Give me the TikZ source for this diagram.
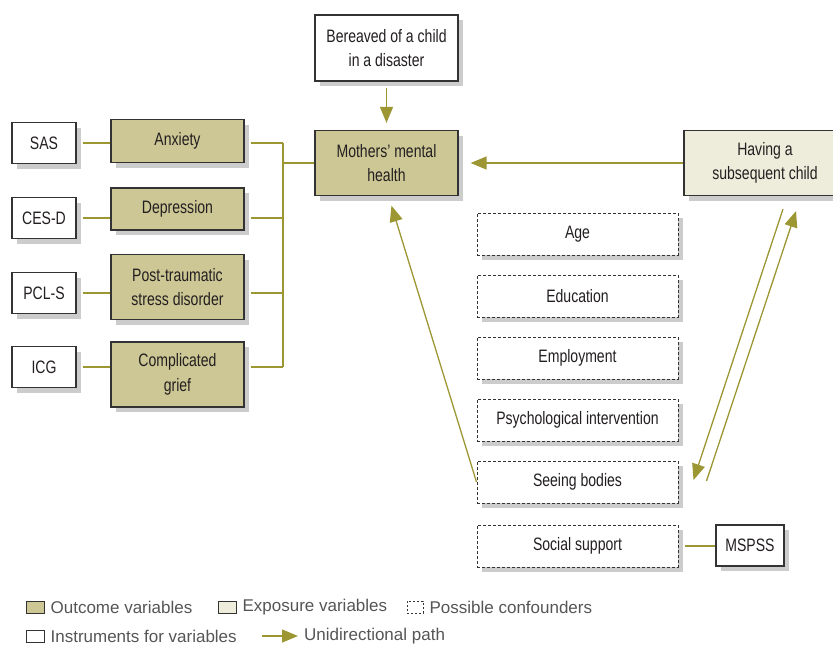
\documentclass[tikz,border=0pt]{standalone}
\usepackage{fontspec}
\setmainfont{Liberation Sans}[FakeStretch=0.78]
\newfontfamily\keyfont{Liberation Sans}
\usetikzlibrary{arrows.meta,positioning,shadows}
\definecolor{Edge}{HTML}{333333}
\definecolor{Ink}{HTML}{231F20}
\definecolor{Olive}{HTML}{9C9633}
\definecolor{Outcome}{HTML}{CCC794}
\definecolor{Exposure}{HTML}{EEEDDC}
\definecolor{Shade}{HTML}{CCCCCC}
\definecolor{Key}{HTML}{555555}

\begin{document}
\begin{tikzpicture}[x=1pt,y=-1pt,
  base/.style={draw=Edge,line width=1.2pt,inner sep=0pt,align=center,text=Ink,font=\fontsize{18}{24.5}\selectfont,drop shadow={shadow xshift=5pt,shadow yshift=-5pt,fill=Shade,opacity=1}},
  instr/.style={base,fill=white,minimum width=64pt,minimum height=41pt},
  outc/.style={base,fill=Outcome,minimum width=133pt},
  conf/.style={base,fill=white,dashed,dash pattern=on 3pt off 2pt,line width=1pt,minimum width=201pt,minimum height=42pt},
  keybox/.style={draw=Edge,line width=0.8pt,minimum width=18pt,minimum height=12pt,inner sep=0pt},
  keytext/.style={anchor=west,inner sep=0pt,text=Key,font=\keyfont\fontsize{17}{20}\selectfont},
  link/.style={draw=Olive,line width=1.3pt},
  arrow/.style={link,-{Triangle[length=16pt,width=13pt]}}
]
\useasboundingbox (0,0) rectangle (833,646);

% exposure and outcome
\node[base,fill=white,minimum width=143pt,minimum height=66pt] (bereaved) at (386.5,48) {Bereaved of a child\\in a disaster};
\node[outc,minimum width=143pt,minimum height=65pt] (mothers) at (386.5,163) {Mothers’ mental\\health};
\node[base,fill=Exposure,minimum width=162pt,minimum height=65pt] (having) at (765,163) {Having a\\subsequent child};

% instruments and outcome variables
\node[instr] (sas) at (44,143) {SAS};
\node[instr] (cesd) at (44,218) {CES-D};
\node[instr] (pcls) at (44,293) {PCL-S};
\node[instr] (icg) at (44,367) {ICG};
\node[outc,minimum height=43pt] (anxiety) at (177.5,141) {Anxiety};
\node[outc,minimum height=42pt] (depression) at (177.5,209) {Depression};
\node[outc,minimum height=65pt] (ptsd) at (177.5,287) {Post-traumatic\\stress disorder};
\node[outc,minimum height=65pt] (grief) at (177.5,374.5) {Complicated\\grief};
\coordinate (bus) at (283,163);

% possible confounders
\node[conf] (age) at (577.5,234) {Age};
\node[conf] (education) at (577.5,296) {Education};
\node[conf] (employment) at (577.5,358) {Employment};
\node[conf] (psych) at (577.5,420) {Psychological intervention};
\node[conf] (seeing) at (577.5,482) {Seeing bodies};
\node[conf] (social) at (577.5,546) {Social support};
\node[instr,minimum width=68pt] (mspss) at (750,545.5) {MSPSS};

\foreach \i/\o in {sas/anxiety,cesd/depression,pcls/ptsd,icg/grief} {
  \draw[link,shorten <=6pt] (\i.east) -- (\o.west |- \i);
  \draw[link,shorten <=6pt] (\o.east |- \i) -- (bus |- \i);
}
\draw[link] (bus |- sas) -- (bus |- icg);
\draw[link] (bus) -- (mothers);
\draw[link,shorten <=6pt] (social.east) -- (mspss.west |- social);

\draw[arrow,shorten <=6pt,shorten >=7pt] (bereaved) -- (mothers);
\draw[arrow,shorten >=12pt] (having) -- (mothers);
\draw[arrow,shorten >=10pt] (seeing.west) -- ([xshift=2pt]mothers.south);
\draw[arrow] ([shift={(18,13)}]having.south) -- ([shift={(15,-2)}]seeing.east);
\draw[arrow] ([shift={(28,-1)}]seeing.east) -- ([shift={(31,15)}]having.south);

% key
\node[keybox,fill=Outcome] (kout) at (35,607) {};
\node[keytext,right=6pt of kout] {Outcome variables};
\node[keybox,fill=Exposure] (kexp) at (227,607) {};
\node[keytext,right=6pt of kexp] {Exposure variables};
\node[keybox,dashed,dash pattern=on 2pt off 2pt,minimum width=16pt] (kconf) at (415,607) {};
\node[keytext,right=6pt of kconf] {Possible confounders};
\node[keybox,fill=white] (kins) at (35,636) {};
\node[keytext,right=6pt of kins] {Instruments for variables};
\coordinate (kpath) at (262,636);
\node[keytext] (tpath) at (304,636) {Unidirectional path};
\draw[arrow,shorten >=6pt] (kpath) -- (tpath.west);
\end{tikzpicture}
\end{document}
